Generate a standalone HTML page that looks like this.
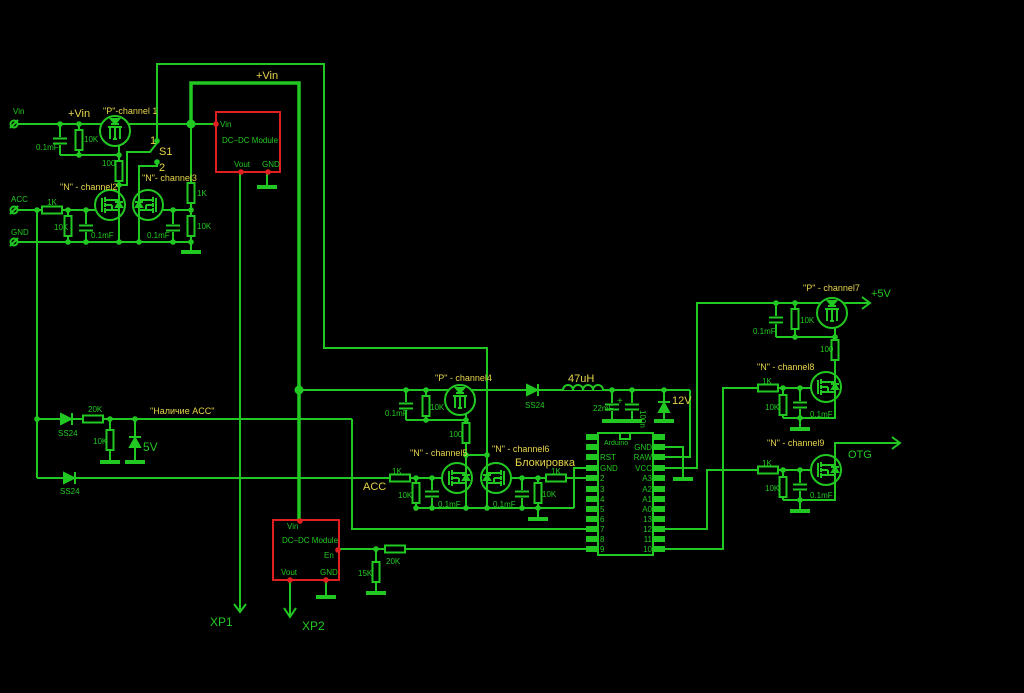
<!DOCTYPE html>
<html><head><meta charset="utf-8"><style>
html,body{margin:0;padding:0;background:#000;}
svg{display:block}
text{font-family:"Liberation Sans","DejaVu Sans",sans-serif;}
.g{fill:#22c822;font-size:8px}
.y{fill:#e6d44a;font-size:9px}
.yb{fill:#e6d44a;font-size:11px}
.gb{fill:#22c822;font-size:12px}
</style></head><body>
<svg width="1024" height="693" viewBox="0 0 1024 693" xmlns="http://www.w3.org/2000/svg">
<defs>
<g id="rv"><rect x="-3.5" y="-10" width="7" height="20" fill="#000" stroke="#22c822" stroke-width="2"/></g>
<g id="rh"><rect x="-10" y="-3.5" width="20" height="7" fill="#000" stroke="#22c822" stroke-width="2"/></g>
<g id="cv" stroke="#22c822" stroke-width="2"><rect x="-3" y="-4" width="6" height="8" fill="#000" stroke="none"/><line x1="-7" y1="-2.5" x2="7" y2="-2.5"/><line x1="-7" y1="2.5" x2="7" y2="2.5"/></g>
<g id="gnd"><rect x="-10" y="-2" width="20" height="4" fill="#22c822"/></g>
<g id="dot"><circle r="2.8" fill="#22c822"/></g>
<g id="rdot"><circle r="2.8" fill="#e02020"/></g>
<g id="nm" stroke="#22c822" stroke-width="2" fill="none">
<circle r="15" fill="#000"/>
<line x1="-8" y1="-7" x2="-8" y2="7"/>
<line x1="-5" y1="-8" x2="-5" y2="-3"/><line x1="-5" y1="-2" x2="-5" y2="2"/><line x1="-5" y1="3" x2="-5" y2="8"/>
<line x1="-5" y1="-5" x2="9" y2="-5"/><line x1="-5" y1="5" x2="9" y2="5"/><line x1="-5" y1="0" x2="2" y2="0"/><line x1="2" y1="0" x2="2" y2="5"/>
<line x1="9" y1="-15" x2="9" y2="15"/>
<path d="M6,2 L12,2 L9,-3 Z" fill="#22c822"/><line x1="5" y1="-3" x2="13" y2="-3"/>
</g>
<g id="pm" stroke="#22c822" stroke-width="2" fill="none">
<circle r="15" fill="#000"/>
<line x1="-7" y1="-4" x2="7" y2="-4"/>
<line x1="-5" y1="-4" x2="-5" y2="8"/><line x1="0" y1="-4" x2="0" y2="8"/><line x1="5" y1="-4" x2="5" y2="8"/>
<line x1="-2" y1="8" x2="2" y2="8"/>
<path d="M-4,-12 L4,-12 L0,-7 Z" fill="#22c822"/><line x1="-4" y1="-7" x2="4" y2="-7"/>
</g>
</defs>

<g stroke="#22c822" stroke-width="2" fill="none">
<!-- top left power -->
<line x1="14" y1="124" x2="216" y2="124"/>
<polyline points="157,141 157,64 324,64 324,348 487,348 487,463"/>
<polyline points="191,124 191,83 299,83 299,521" stroke-width="3.5"/>
<line x1="60" y1="124" x2="60" y2="155"/>
<line x1="79" y1="124" x2="79" y2="155"/>
<polyline points="60,155 119,155"/>
<line x1="119" y1="146" x2="119" y2="198"/>
<polyline points="119,185 127,185 127,152 150,152 157,143"/>
<polyline points="157,162 157,166 139,166 139,198"/>
<line x1="191" y1="124" x2="191" y2="251"/>
<line x1="14" y1="210" x2="95" y2="210"/>
<line x1="14" y1="242" x2="191" y2="242"/>
<line x1="68" y1="210" x2="68" y2="242"/>
<line x1="86" y1="210" x2="86" y2="242"/>
<line x1="119" y1="214" x2="119" y2="242"/>
<line x1="139" y1="214" x2="139" y2="242"/>
<line x1="158" y1="210" x2="191" y2="210"/>
<line x1="173" y1="210" x2="173" y2="242"/>
<line x1="37" y1="210" x2="37" y2="478"/>
<line x1="240" y1="172" x2="240" y2="612"/>
<line x1="267" y1="172" x2="267" y2="187"/>
<polyline points="234,604 240,612 246,604"/>
<!-- left lower -->
<line x1="37" y1="419" x2="352" y2="419"/>
<polyline points="352,419 352,529 586,529"/>
<line x1="110" y1="419" x2="110" y2="461"/>
<line x1="135" y1="419" x2="135" y2="461"/>
<line x1="37" y1="478" x2="392" y2="478"/>
<!-- module2 -->
<line x1="290" y1="580" x2="290" y2="617"/>
<polyline points="284,608 290,617 296,608"/>
<line x1="326" y1="580" x2="326" y2="596"/>
<line x1="340" y1="549" x2="586" y2="549"/>
<line x1="376" y1="549" x2="376" y2="592"/>
<!-- mid row -->
<line x1="299" y1="390" x2="690" y2="390"/>
<line x1="406" y1="390" x2="406" y2="420"/>
<line x1="426" y1="390" x2="426" y2="420"/>
<line x1="406" y1="420" x2="466" y2="420"/>
<line x1="466" y1="410" x2="466" y2="463"/>
<line x1="466" y1="455" x2="487" y2="455"/>
<line x1="612" y1="390" x2="612" y2="420"/>
<line x1="632" y1="390" x2="632" y2="420"/>
<line x1="664" y1="390" x2="664" y2="420"/>
<polyline points="690,390 690,457 665,457"/>
<polyline points="665,447 683,447 683,478"/>
<polyline points="665,468 697,468 697,303 870,303"/>
<polyline points="862,297 870,303 862,309"/>
<line x1="410" y1="478" x2="442" y2="478"/>
<line x1="416" y1="478" x2="416" y2="508"/>
<line x1="432" y1="478" x2="432" y2="508"/>
<polyline points="416,508 574,508"/>
<line x1="466" y1="493" x2="466" y2="508"/>
<line x1="487" y1="493" x2="487" y2="508"/>
<line x1="510" y1="478" x2="586" y2="478"/>
<line x1="522" y1="478" x2="522" y2="508"/>
<line x1="538" y1="478" x2="538" y2="518"/>
<polyline points="574,508 574,468 586,468"/>
<!-- right -->
<line x1="776" y1="303" x2="776" y2="337"/>
<line x1="795" y1="303" x2="795" y2="337"/>
<line x1="776" y1="337" x2="835" y2="337"/>
<line x1="835" y1="320" x2="835" y2="372"/>
<polyline points="665,549 723,549 723,388 812,388"/>
<line x1="783" y1="388" x2="783" y2="418"/>
<line x1="800" y1="388" x2="800" y2="418"/>
<polyline points="783,418 835,418 835,402"/>
<line x1="800" y1="418" x2="800" y2="428"/>
<polyline points="665,529 707,529 707,470 812,470"/>
<line x1="783" y1="470" x2="783" y2="500"/>
<line x1="800" y1="470" x2="800" y2="500"/>
<polyline points="783,500 835,500 835,485"/>
<line x1="800" y1="500" x2="800" y2="510"/>
<polyline points="835,455 835,443 900,443"/>
<polyline points="892,437 900,443 892,449"/>
</g>

<!-- inductor -->
<path d="M563,390 a5,5 0 0 1 10,0 a5,5 0 0 1 10,0 a5,5 0 0 1 10,0 a5,5 0 0 1 10,0" stroke="#22c822" stroke-width="2" fill="#000"/>
<!-- diodes -->
<g stroke="#22c822" stroke-width="2" fill="#22c822">
<path d="M527,385 L527,395 L537,390 Z"/><line x1="538" y1="384" x2="538" y2="396"/>
<path d="M61,414 L61,424 L71,419 Z"/><line x1="72" y1="413" x2="72" y2="425"/>
<path d="M64,473 L64,483 L74,478 Z"/><line x1="75" y1="472" x2="75" y2="484"/>
<path d="M130,447 L140,447 L135,438 Z"/><line x1="129" y1="437" x2="141" y2="437"/>
<path d="M659,412 L669,412 L664,403 Z"/><line x1="658" y1="402" x2="670" y2="402"/>
</g>
<!-- resistors -->
<use href="#rv" x="79" y="140"/><use href="#rv" x="119" y="171"/>
<use href="#rh" x="52" y="210"/><use href="#rv" x="68" y="226"/>
<use href="#rv" x="191" y="193"/><use href="#rv" x="191" y="226"/>
<use href="#rh" x="93" y="419"/><use href="#rv" x="110" y="440"/>
<use href="#rv" x="426" y="406"/><use href="#rv" x="466" y="433"/>
<use href="#rh" x="400" y="478"/><use href="#rv" x="416" y="493"/>
<use href="#rh" x="556" y="478"/><use href="#rv" x="538" y="493"/>
<use href="#rh" x="395" y="549"/><use href="#rv" x="376" y="572"/>
<use href="#rv" x="795" y="319"/><use href="#rv" x="835" y="350"/>
<use href="#rh" x="768" y="388"/><use href="#rv" x="783" y="405"/>
<use href="#rh" x="768" y="470"/><use href="#rv" x="783" y="487"/>
<!-- caps -->
<use href="#cv" x="60" y="141"/><use href="#cv" x="86" y="228"/><use href="#cv" x="173" y="228"/>
<use href="#cv" x="406" y="406"/><use href="#cv" x="432" y="494"/><use href="#cv" x="522" y="494"/>
<use href="#cv" x="612" y="407"/><use href="#cv" x="632" y="407"/>
<use href="#cv" x="776" y="320"/><use href="#cv" x="800" y="405"/><use href="#cv" x="800" y="487"/>
<text x="617" y="404" fill="#22c822" font-size="10">+</text>
<!-- grounds -->
<use href="#gnd" x="191" y="252"/><use href="#gnd" x="267" y="187"/>
<use href="#gnd" x="110" y="462"/><use href="#gnd" x="135" y="462"/>
<use href="#gnd" x="612" y="421"/><use href="#gnd" x="632" y="421"/><use href="#gnd" x="664" y="421"/>
<use href="#gnd" x="683" y="479"/><use href="#gnd" x="538" y="519"/>
<use href="#gnd" x="376" y="593"/><use href="#gnd" x="326" y="597"/>
<use href="#gnd" x="800" y="429"/><use href="#gnd" x="800" y="511"/>
<!-- mosfets -->
<use href="#pm" x="115" y="131"/>
<use href="#nm" x="110" y="205"/>
<g transform="translate(148,205) scale(-1,1)"><use href="#nm"/></g>
<use href="#pm" x="460" y="400"/>
<use href="#nm" x="457" y="478"/>
<g transform="translate(496,478) scale(-1,1)"><use href="#nm"/></g>
<use href="#pm" x="832" y="313"/>
<use href="#nm" x="826" y="387"/>
<use href="#nm" x="826" y="470"/>
<!-- dots -->
<g>
<use href="#dot" x="60" y="124"/><use href="#dot" x="79" y="124"/><use href="#dot" x="79" y="155"/><use href="#dot" x="119" y="155"/><use href="#dot" x="119" y="185"/>
<use href="#dot" x="37" y="210"/><use href="#dot" x="68" y="210"/><use href="#dot" x="86" y="210"/><use href="#dot" x="68" y="242"/><use href="#dot" x="86" y="242"/><use href="#dot" x="119" y="242"/><use href="#dot" x="139" y="242"/><use href="#dot" x="173" y="210"/><use href="#dot" x="173" y="242"/><use href="#dot" x="191" y="210"/><use href="#dot" x="191" y="242"/>
<circle cx="191" cy="124" r="4.5" fill="#22c822"/><circle cx="299" cy="390" r="4.5" fill="#22c822"/>
<use href="#dot" x="157" y="141"/><use href="#dot" x="157" y="162"/>
<use href="#dot" x="37" y="419"/><use href="#dot" x="110" y="419"/><use href="#dot" x="135" y="419"/>
<use href="#dot" x="406" y="390"/><use href="#dot" x="426" y="390"/><use href="#dot" x="426" y="420"/><use href="#dot" x="466" y="420"/><use href="#dot" x="466" y="455"/><use href="#dot" x="487" y="455"/>
<use href="#dot" x="612" y="390"/><use href="#dot" x="632" y="390"/><use href="#dot" x="664" y="390"/>
<use href="#dot" x="416" y="478"/><use href="#dot" x="432" y="478"/><use href="#dot" x="416" y="508"/><use href="#dot" x="432" y="508"/><use href="#dot" x="466" y="508"/><use href="#dot" x="487" y="508"/>
<use href="#dot" x="522" y="478"/><use href="#dot" x="538" y="478"/><use href="#dot" x="522" y="508"/><use href="#dot" x="538" y="508"/>
<use href="#dot" x="376" y="549"/>
<use href="#dot" x="776" y="303"/><use href="#dot" x="795" y="303"/><use href="#dot" x="795" y="337"/><use href="#dot" x="835" y="337"/>
<use href="#dot" x="783" y="388"/><use href="#dot" x="800" y="388"/><use href="#dot" x="800" y="418"/>
<use href="#dot" x="783" y="470"/><use href="#dot" x="800" y="470"/><use href="#dot" x="800" y="500"/>
</g>
<!-- terminals -->
<g stroke="#22c822" stroke-width="2" fill="#000">
<circle cx="14" cy="124" r="3.5"/><line x1="10" y1="128" x2="18" y2="120"/>
<circle cx="14" cy="210" r="3.5"/><line x1="10" y1="214" x2="18" y2="206"/>
<circle cx="14" cy="242" r="3.5"/><line x1="10" y1="246" x2="18" y2="238"/>
</g>
<!-- modules -->
<rect x="216" y="112" width="64" height="60" fill="none" stroke="#e02020" stroke-width="2"/>
<use href="#rdot" x="216" y="124"/><use href="#rdot" x="241" y="172"/><use href="#rdot" x="268" y="172"/>
<text x="220" y="127" class="g" font-size="7">Vin</text>
<text x="222" y="143" class="g" font-size="7">DC–DC Module</text>
<text x="234" y="167" class="g" font-size="7">Vout</text><text x="262" y="167" class="g" font-size="6">GND</text>
<rect x="273" y="520" width="66" height="60" fill="none" stroke="#e02020" stroke-width="2"/>
<use href="#rdot" x="300" y="521"/><use href="#rdot" x="290" y="580"/><use href="#rdot" x="326" y="580"/><use href="#rdot" x="338" y="550"/>
<text x="287" y="529" class="g" font-size="7">Vin</text>
<text x="282" y="543" class="g" font-size="7">DC–DC Module</text>
<text x="324" y="558" class="g" font-size="8">En</text>
<text x="281" y="575" class="g" font-size="7">Vout</text><text x="320" y="575" class="g" font-size="6">GND</text>
<!-- arduino -->
<rect x="598" y="433" width="55" height="122" fill="none" stroke="#22c822" stroke-width="2"/>
<path d="M620,433 v6 h10 v-6" fill="none" stroke="#22c822" stroke-width="2"/>
<g fill="#22c822">
<rect x="586" y="434" width="12" height="6"/><rect x="586" y="444" width="12" height="6"/><rect x="586" y="454" width="12" height="6"/><rect x="586" y="465" width="12" height="6"/><rect x="586" y="475" width="12" height="6"/><rect x="586" y="486" width="12" height="6"/><rect x="586" y="496" width="12" height="6"/><rect x="586" y="506" width="12" height="6"/><rect x="586" y="516" width="12" height="6"/><rect x="586" y="526" width="12" height="6"/><rect x="586" y="536" width="12" height="6"/><rect x="586" y="546" width="12" height="6"/>
<rect x="653" y="434" width="12" height="6"/><rect x="653" y="444" width="12" height="6"/><rect x="653" y="454" width="12" height="6"/><rect x="653" y="465" width="12" height="6"/><rect x="653" y="475" width="12" height="6"/><rect x="653" y="486" width="12" height="6"/><rect x="653" y="496" width="12" height="6"/><rect x="653" y="506" width="12" height="6"/><rect x="653" y="516" width="12" height="6"/><rect x="653" y="526" width="12" height="6"/><rect x="653" y="536" width="12" height="6"/><rect x="653" y="546" width="12" height="6"/>
</g>
<g class="g" font-size="7.5">
<text x="604" y="445" font-size="7">Arduino</text>
<text x="600" y="460">RST</text><text x="600" y="471">GND</text><text x="600" y="481">2</text><text x="600" y="492">3</text><text x="600" y="502">4</text><text x="600" y="512">5</text><text x="600" y="522">6</text><text x="600" y="532">7</text><text x="600" y="542">8</text><text x="600" y="552">9</text>
<g text-anchor="end"><text x="652" y="450">GND</text><text x="652" y="460">RAW</text><text x="652" y="471">VCC</text><text x="652" y="481">A3</text><text x="652" y="492">A2</text><text x="652" y="502">A1</text><text x="652" y="512">A0</text><text x="652" y="522">13</text><text x="652" y="532">12</text><text x="652" y="542">11</text><text x="652" y="552">10</text></g>
</g>
<!-- labels -->
<g class="g">
<text x="13" y="114">Vin</text><text x="11" y="202">ACC</text><text x="11" y="235">GND</text>
<text x="36" y="150">0.1mF</text><text x="84" y="142">10K</text><text x="102" y="166">100</text>
<text x="47" y="205">1K</text><text x="54" y="230">10K</text><text x="91" y="238">0.1mF</text><text x="147" y="238">0.1mF</text>
<text x="197" y="196">1K</text><text x="197" y="229">10K</text>
<text x="88" y="412">20K</text><text x="58" y="436">SS24</text><text x="93" y="444">10K</text><text x="60" y="494">SS24</text>
<text x="385" y="416">0.1mF</text><text x="430" y="410">10K</text><text x="449" y="437">100</text>
<text x="525" y="408">SS24</text><text x="593" y="411">22mF</text>
<text x="392" y="474">1K</text><text x="398" y="498">10K</text><text x="438" y="507">0.1mF</text><text x="493" y="507">0.1mF</text>
<text x="551" y="474">1K</text><text x="542" y="497">10K</text>
<text x="386" y="564">20K</text><text x="358" y="576">15K</text>
<text x="753" y="334">0.1mF</text><text x="800" y="323">10K</text><text x="820" y="352">100</text>
<text x="762" y="384">1K</text><text x="765" y="410">10K</text><text x="810" y="417">0.1mF</text>
<text x="762" y="466">1K</text><text x="765" y="491">10K</text><text x="810" y="498">0.1mF</text>
<text x="648" y="418" transform="rotate(90 648 410)">100n</text>
</g>
<g class="y">
<text x="103" y="114">"P"-channel 1</text>
<text x="60" y="190">"N" - channel2</text>
<text x="142" y="181">"N"- channel3</text>
<text x="435" y="381">"P" - channel4</text>
<text x="410" y="456">"N" - channel5</text>
<text x="492" y="452">"N" - channel6</text>
<text x="803" y="291">"P" - channel7</text>
<text x="757" y="370">"N" - channel8</text>
<text x="767" y="446">"N" - channel9</text>
<text x="150" y="414">"Наличие ACC"</text>
</g>
<g class="yb">
<text x="68" y="117">+Vin</text><text x="256" y="79">+Vin</text>
<text x="150" y="144">1</text><text x="159" y="155">S1</text><text x="159" y="171">2</text>
<text x="568" y="382">47uH</text><text x="672" y="404">12V</text>
<text x="515" y="466">Блокировка</text>
<text x="363" y="490">ACC</text>
</g>
<g class="gb">
<text x="143" y="451">5V</text>
<text x="871" y="297" font-size="11">+5V</text>
<text x="848" y="458" font-size="11">OTG</text>
<text x="210" y="626">XP1</text><text x="302" y="630">XP2</text>
</g>
</svg>
</body></html>
